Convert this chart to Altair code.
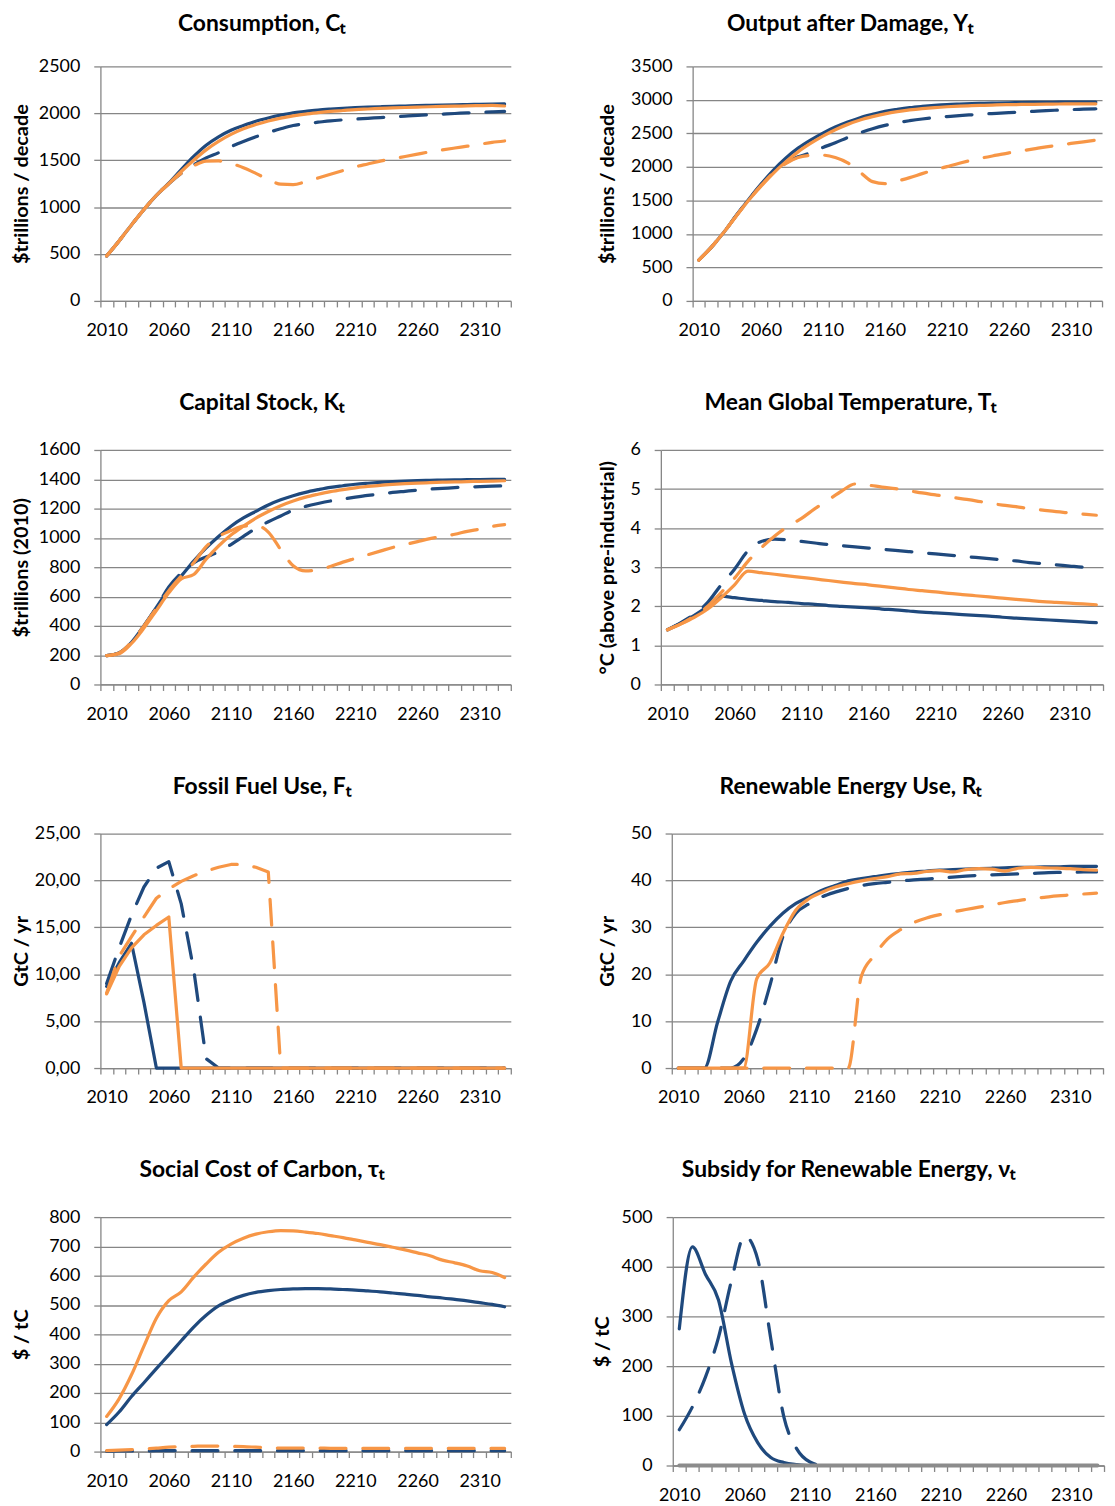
import altair as alt
import pandas as pd

YEARS = list(range(2010, 2331, 10))  # 33 decades

BLUE = "#1F497D"
ORANGE = "#F79646"
GRAY = "#868686"
ZERO_GRAY = "#8C8C8C"

# ---------------- Consumption C_t ----------------
cons_blue_solid = [480, 640, 810, 975, 1125, 1255, 1400, 1540, 1660, 1750, 1820, 1870, 1915, 1950, 1980, 2005, 2020,
                   2035, 2045, 2053, 2060, 2065, 2070, 2075, 2078, 2082, 2085, 2088, 2091, 2094, 2096, 2098, 2100]
cons_blue_dashed = [480, 640, 810, 975, 1125, 1250, 1360, 1450, 1525, 1580, 1645, 1700, 1750, 1795, 1835, 1870, 1890,
                    1905, 1920, 1930, 1938, 1946, 1955, 1962, 1970, 1978, 1985, 1992, 1998, 2005, 2010, 2015, 2020]
cons_orange_solid = [480, 640, 810, 975, 1125, 1250, 1380, 1500, 1610, 1700, 1775, 1835, 1880, 1918, 1948, 1972, 1992,
                     2007, 2020, 2030, 2040, 2046, 2052, 2057, 2062, 2066, 2070, 2073, 2076, 2079, 2082, 2084, 2078]
cons_orange_dashed = [480, 640, 810, 975, 1125, 1250, 1360, 1440, 1490, 1492, 1465, 1420, 1360, 1295, 1245, 1240, 1270,
                      1310, 1350, 1390, 1430, 1460, 1490, 1515, 1540, 1565, 1590, 1610, 1630, 1650, 1670, 1690, 1705]

# ---------------- Output after damage Y_t ----------------
out_blue_solid = [610, 800, 1020, 1270, 1510, 1740, 1950, 2130, 2280, 2400, 2505, 2595, 2670, 2735, 2785, 2830, 2860,
                  2885, 2903, 2918, 2930, 2938, 2945, 2950, 2954, 2957, 2960, 2962, 2964, 2966, 2967, 2968, 2969]
out_blue_dashed = [610, 800, 1020, 1270, 1510, 1730, 1920, 2060, 2150, 2210, 2290, 2360, 2440, 2510, 2570, 2620, 2660,
                   2690, 2715, 2735, 2750, 2765, 2778, 2790, 2800, 2810, 2820, 2830, 2840, 2848, 2855, 2862, 2868]
out_orange_solid = [610, 800, 1020, 1265, 1500, 1710, 1905, 2075, 2225, 2350, 2460, 2555, 2635, 2700, 2750, 2792, 2825,
                    2850, 2870, 2886, 2898, 2907, 2914, 2920, 2925, 2929, 2932, 2935, 2937, 2939, 2940, 2941, 2942]
out_orange_dashed = [610, 800, 1020, 1265, 1500, 1720, 1910, 2050, 2140, 2170, 2175, 2140, 2060, 1920, 1780, 1750, 1790,
                     1840, 1900, 1955, 2005, 2055, 2100, 2140, 2175, 2210, 2240, 2270, 2300, 2325, 2350, 2375, 2400]

# ---------------- Capital stock K_t ----------------
cap_blue_solid = [197, 215, 287, 400, 525, 650, 740, 842, 932, 1010, 1080, 1136, 1181, 1225, 1260, 1288, 1311,
                  1329, 1345, 1356, 1366, 1373, 1379, 1384, 1388, 1391, 1393, 1395, 1396, 1397, 1398, 1399, 1400]
cap_blue_dashed = [197, 215, 287, 400, 525, 665, 760, 830, 870, 905, 955, 1010, 1065, 1110, 1150, 1190, 1215,
                   1235, 1252, 1265, 1278, 1290, 1300, 1310, 1318, 1326, 1333, 1338, 1343, 1347, 1350, 1353, 1356]
cap_orange_solid = [197, 210, 280, 385, 505, 625, 720, 750, 855, 945, 1020, 1080, 1135, 1180, 1220, 1252, 1278,
                    1298, 1316, 1330, 1342, 1351, 1359, 1365, 1370, 1374, 1377, 1380, 1382, 1384, 1386, 1388, 1390]
cap_orange_dashed = [197, 215, 290, 400, 520, 640, 740, 830, 940, 1010, 1050, 1080, 1085, 1040, 920, 810, 775,
                     780, 805, 835, 860, 885, 910, 935, 955, 975, 995, 1010, 1025, 1045, 1060, 1078, 1090]

# ---------------- Mean global temperature T_t ----------------
temp_blue_solid = [1.40, 1.57, 1.77, 2.00, 2.26, 2.22, 2.18, 2.15, 2.12, 2.10, 2.07, 2.05, 2.02, 2.00, 1.98, 1.96,
                   1.93, 1.91, 1.88, 1.85, 1.83, 1.81, 1.79, 1.77, 1.75, 1.72, 1.70, 1.68, 1.66, 1.64, 1.62, 1.60, 1.58]
temp_blue_dashed = [1.40, 1.58, 1.80, 2.10, 2.55, 2.95, 3.42, 3.66, 3.72, 3.70, 3.66, 3.62, 3.58, 3.55, 3.52, 3.49,
                    3.46, 3.43, 3.40, 3.37, 3.34, 3.31, 3.28, 3.25, 3.22, 3.19, 3.16, 3.12, 3.09, 3.06, 3.03, 3.00, 2.96]
temp_orange_solid = [1.40, 1.55, 1.72, 1.93, 2.22, 2.55, 2.90, 2.86, 2.82, 2.78, 2.74, 2.70, 2.66, 2.62, 2.58, 2.55,
                     2.51, 2.47, 2.43, 2.40, 2.37, 2.33, 2.30, 2.27, 2.24, 2.21, 2.18, 2.15, 2.12, 2.10, 2.08, 2.06, 2.04]
temp_orange_dashed = [1.40, 1.55, 1.75, 2.00, 2.35, 2.72, 3.15, 3.50, 3.80, 4.05, 4.25, 4.50, 4.72, 4.95, 5.13, 5.10,
                      5.05, 5.01, 4.96, 4.90, 4.85, 4.80, 4.75, 4.70, 4.64, 4.59, 4.55, 4.50, 4.46, 4.42, 4.39, 4.36, 4.33]

# ---------------- Fossil fuel use F_t ----------------
fos_blue_solid = [8.7, 11.2, 13.3, 7.0] + [0.0] * 29
fos_blue_dashed = [9.0, 12.8, 16.3, 19.3, 21.3, 22.0, 17.5, 10.5, 1.0] + [0.0] * 24
fos_orange_solid = [7.9, 10.8, 12.8, 14.2, 15.2, 16.1] + [0.0] * 27
fos_orange_dashed = [8.0, 11.9, 14.0, 16.1, 18.1, 19.1, 19.9, 20.5, 21.0, 21.4, 21.7, 21.7, 21.4, 20.9] + [0.0] * 19

# ---------------- Renewable energy use R_t ----------------
ren_blue_solid = [0, 0, 0, 9.7, 18.5, 22.8, 26.8, 30.2, 33.0, 35.1, 36.5, 37.9, 38.9, 39.9, 40.4, 40.8, 41.2,
                  41.5, 41.8, 42.0, 42.2, 42.3, 42.4, 42.5, 42.6, 42.7, 42.8, 42.8, 42.9, 42.9, 43.0, 43.0, 43.0]
ren_blue_dashed = [0, 0, 0, 0, 0, 2.0, 8.3, 17.5, 28.0, 33.0, 35.0, 36.5, 37.5, 38.3, 38.9, 39.3, 39.6,
                   39.9, 40.1, 40.3, 40.5, 40.7, 40.9, 41.1, 41.2, 41.3, 41.4, 41.5, 41.6, 41.7, 41.7, 41.8, 41.8]
ren_orange_solid = [0, 0, 0, 0, 0, 0, 19.0, 22.4, 28.7, 33.7, 36.1, 37.5, 38.6, 39.3, 39.9, 40.4, 40.8,
                    41.4, 41.5, 41.9, 42.1, 41.8, 42.3, 42.5, 42.4, 42.0, 42.6, 42.8, 42.7, 42.6, 42.5, 42.3, 42.2]
ren_orange_dashed = [0] * 14 + [19.5, 24.0, 27.5, 29.5, 31.0, 32.0, 32.7, 33.3, 33.8, 34.3, 34.8, 35.3, 35.7,
                                36.1, 36.4, 36.7, 36.9, 37.1, 37.3]

# ---------------- Social cost of carbon tau_t ----------------
scc_blue_solid = [92, 135, 188, 235, 283, 330, 378, 425, 465, 497, 518, 533, 543, 549, 553, 555, 556,
                  556, 555, 553, 551, 548, 545, 541, 537, 533, 528, 524, 519, 514, 508, 502, 494]
scc_blue_dashed = [1, 2, 2, 2, 3, 3, 3, 3, 3, 3, 3, 3, 3, 3, 3, 3, 3,
                   3, 3, 3, 3, 3, 3, 3, 3, 3, 3, 3, 3, 3, 3, 3, 3]
scc_orange_solid = [120, 180, 262, 360, 455, 515, 545, 595, 640, 680, 708, 728, 742, 750, 754, 753, 749,
                    744, 737, 730, 722, 714, 706, 697, 688, 678, 668, 653, 644, 633, 617, 611, 594]
scc_orange_dashed = [3, 5, 7, 9, 12, 15, 17, 18, 19, 19, 18, 17, 15, 13, 12, 12, 12,
                     12, 11, 11, 11, 11, 11, 11, 11, 11, 11, 11, 11, 11, 11, 11, 11]

# ---------------- Subsidy for renewable energy nu_t ----------------
sub_blue_solid = [275, 440, 385, 333, 205, 103, 46, 16, 6, 2] + [0] * 23
sub_blue_dashed = [72, 118, 178, 258, 373, 462, 415, 255, 98, 33, 7] + [0] * 22
sub_zero = [0] * 33

STYLE = {
    "blue_solid": (BLUE, None, 3.25),
    "blue_dashed": (BLUE, [26, 17], 3.25),
    "orange_solid": (ORANGE, None, 3.25),
    "orange_dashed": (ORANGE, [26, 17], 3.25),
    "zero": (ZERO_GRAY, None, 4),
}


def panel(title, ytitle, series, ymax, ystep, width, height, extent,
          interp="monotone", comma_decimals=False, title_offset=20):
    recs = []
    for name, vals in series:
        for yr, v in zip(YEARS, vals):
            recs.append({"year": yr, "value": v, "series": name})
    df = pd.DataFrame(recs)
    yvals = list(range(0, ymax + 1, ystep))

    xenc = alt.X(
        "year:O",
        bandPosition=0.5,
        scale=alt.Scale(type="band", paddingInner=0, paddingOuter=0),
        axis=alt.Axis(title=None, grid=False, tickBand="extent", tickSize=6,
                      labelPadding=15, labelAngle=0, labelOverlap=False,
                      labelExpr="datum.value % 50 == 10 ? datum.label : ''"),
    )
    common = dict(title=ytitle, values=yvals, grid=True, tickSize=6.7, labelPadding=14,
                  titlePadding=11, minExtent=extent, maxExtent=extent)
    if comma_decimals:
        yaxis = alt.Axis(labelExpr="replace(format(datum.value, '.2f'), '.', ',')", **common)
    else:
        yaxis = alt.Axis(format="d", **common)
    yenc = alt.Y("value:Q", scale=alt.Scale(domain=[0, ymax], nice=False, zero=True), axis=yaxis)

    base = alt.Chart(df)
    layers = []
    for name, _ in series:
        color, dash, sw = STYLE[name]
        kw = dict(color=color, strokeWidth=sw, interpolate=interp, strokeCap="round", strokeJoin="round")
        if dash:
            kw["strokeDash"] = dash
        layers.append(base.transform_filter(alt.datum.series == name).mark_line(**kw).encode(x=xenc, y=yenc))
    return alt.layer(*layers).properties(
        width=width, height=height,
        title=alt.TitleParams(title, offset=title_offset, frame="bounds", anchor="middle", dy=-6),
    )


p1 = panel("Consumption, Cₜ", "$trillions / decade",
           [("blue_solid", cons_blue_solid), ("blue_dashed", cons_blue_dashed),
            ("orange_solid", cons_orange_solid), ("orange_dashed", cons_orange_dashed)],
           2500, 500, 413, 236, 58, title_offset=16)
p2 = panel("Output after Damage, Yₜ", "$trillions / decade",
           [("blue_solid", out_blue_solid), ("blue_dashed", out_blue_dashed),
            ("orange_solid", out_orange_solid), ("orange_dashed", out_orange_dashed)],
           3500, 500, 412, 236, 65, title_offset=16)
p3 = panel("Capital Stock, Kₜ", "$trillions (2010)",
           [("blue_solid", cap_blue_solid), ("blue_dashed", cap_blue_dashed),
            ("orange_solid", cap_orange_solid), ("orange_dashed", cap_orange_dashed)],
           1600, 200, 413, 236, 58)
p4 = panel("Mean Global Temperature, Tₜ", "°C (above pre-industrial)",
           [("blue_solid", temp_blue_solid), ("blue_dashed", temp_blue_dashed),
            ("orange_solid", temp_orange_solid), ("orange_dashed", temp_orange_dashed)],
           6, 1, 445, 236, 33)
p5 = panel("Fossil Fuel Use, Fₜ", "GtC / yr",
           [("blue_solid", fos_blue_solid), ("blue_dashed", fos_blue_dashed),
            ("orange_solid", fos_orange_solid), ("orange_dashed", fos_orange_dashed)],
           25, 5, 413, 236, 58, interp="linear", comma_decimals=True)
p6 = panel("Renewable Energy Use, Rₜ", "GtC / yr",
           [("blue_solid", ren_blue_solid), ("blue_dashed", ren_blue_dashed),
            ("orange_solid", ren_orange_solid), ("orange_dashed", ren_orange_dashed)],
           50, 10, 434, 236, 44)
p7 = panel("Social Cost of Carbon, τₜ", "$ / tC",
           [("blue_solid", scc_blue_solid), ("blue_dashed", scc_blue_dashed),
            ("orange_solid", scc_orange_solid), ("orange_dashed", scc_orange_dashed)],
           800, 100, 413, 236, 58)
p8 = panel("Subsidy for Renewable Energy, νₜ", "$ / tC",
           [("blue_solid", sub_blue_solid), ("blue_dashed", sub_blue_dashed), ("zero", sub_zero)],
           500, 100, 434, 250, 50)

row1 = alt.hconcat(p1, p2, spacing=86)
row2 = alt.hconcat(p3, p4, spacing=86)
row3 = alt.hconcat(p5, p6, spacing=86)
row4 = alt.hconcat(p7, p8, spacing=81)

chart = (
    alt.vconcat(row1, row2, row3, row4, spacing=53)
    .properties(padding={"left": 4, "top": 0, "right": 2, "bottom": 2})
    .configure_view(stroke=None)
    .configure_axis(
        domainColor=GRAY, domainWidth=1.3, tickColor=GRAY, tickWidth=1.3,
        gridColor=GRAY, gridWidth=1.3,
        labelFont="Lato", labelFontSize=18, labelColor="black",
        titleFont="Lato", titleFontSize=20, titleFontWeight="bold", titleColor="black",
    )
    .configure_title(font="Lato", fontSize=23, fontWeight="bold", color="black")
)

chart.save("out.html", embed_options={"renderer": "svg", "actions": False})
